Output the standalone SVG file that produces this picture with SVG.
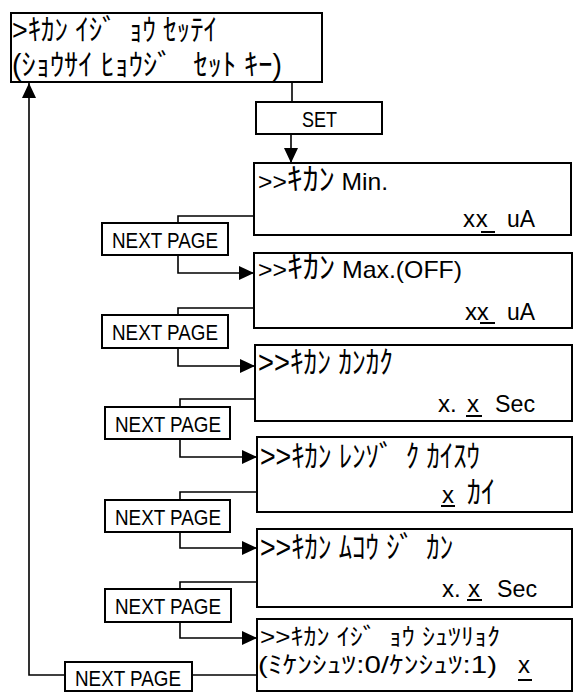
<svg xmlns="http://www.w3.org/2000/svg" width="574" height="692" viewBox="0 0 574 692">
<defs>
<style>
.box{fill:#fff;stroke:#000;stroke-width:2}
.ln{fill:none;stroke:#000;stroke-width:1.6}
.ul{stroke:#000;stroke-width:2}
text{font-family:"Liberation Sans","Noto Sans CJK JP",sans-serif;fill:#000}
.t{font-size:24px}
.b{font-size:22px}
.k{font-size:31px}
.k1{font-size:30px}
.k2{font-size:24px}
</style>
<marker id="ah" markerUnits="userSpaceOnUse" markerWidth="16" markerHeight="15" refX="15" refY="7" orient="auto">
<path d="M0,0 L15,7 L0,14 z" fill="#000"/>
</marker>
</defs>
<rect width="574" height="692" fill="#fff"/>
<g id="connectors">
<path class="ln" d="M292,82 V102"/>
<path class="ln" d="M291,134 V163" marker-end="url(#ah)"/>
<path class="ln" d="M254,216 H178 V223"/>
<path class="ln" d="M178,255 V273 H254" marker-end="url(#ah)"/>
<path class="ln" d="M254,308 H178 V315"/>
<path class="ln" d="M178,348 V366 H255" marker-end="url(#ah)"/>
<path class="ln" d="M255,399 H180 V407"/>
<path class="ln" d="M180,439 V457 H257" marker-end="url(#ah)"/>
<path class="ln" d="M257,492 H180 V500"/>
<path class="ln" d="M180,532 V548 H257" marker-end="url(#ah)"/>
<path class="ln" d="M257,582 H180 V589"/>
<path class="ln" d="M180,622 V638 H257" marker-end="url(#ah)"/>
<path class="ln" d="M257,675 H192"/>
<path class="ln" d="M65,675 H29 V83" marker-end="url(#ah)"/>
</g>
<g id="top">
<rect class="box" x="11" y="13" width="311" height="69"/>
<text class="k1" x="12" y="40" textLength="205" lengthAdjust="spacingAndGlyphs">&gt;ｷｶﾝ ｲｼ゛ｮｳ ｾｯﾃｲ</text>
<text class="k1" x="12" y="75" textLength="270" lengthAdjust="spacingAndGlyphs">(ｼｮｳｻｲ ﾋｮｳｼ゛ ｾｯﾄ ｷｰ)</text>
</g>
<g id="set">
<rect class="box" x="256" y="102" width="126" height="32"/>
<text class="b" x="302" y="127" textLength="35" lengthAdjust="spacingAndGlyphs">SET</text>
</g>
<g id="screen1">
<rect class="box" x="254" y="163" width="317" height="72"/>
<text class="t" x="258" y="190" textLength="130" lengthAdjust="spacingAndGlyphs">&gt;&gt;<tspan class="k">ｷｶﾝ</tspan> Min.</text>
<text class="t" y="227"><tspan x="463" textLength="32">xx </tspan><tspan x="507" textLength="28" lengthAdjust="spacingAndGlyphs">uA</tspan></text>
<line class="ul" x1="481" y1="232" x2="495" y2="232"/>
</g>
<g id="next1">
<rect class="box" x="102" y="223" width="126" height="32"/>
<text class="b" x="112" y="248" textLength="106" lengthAdjust="spacingAndGlyphs">NEXT PAGE</text>
</g>
<g id="screen2">
<rect class="box" x="254" y="253" width="318" height="75"/>
<text class="t" x="258" y="278" textLength="204" lengthAdjust="spacingAndGlyphs">&gt;&gt;<tspan class="k">ｷｶﾝ</tspan> Max.(OFF)</text>
<text class="t" y="320"><tspan x="465" textLength="30">xx </tspan><tspan x="507" textLength="28" lengthAdjust="spacingAndGlyphs">uA</tspan></text>
<line class="ul" x1="480" y1="323" x2="495" y2="323"/>
</g>
<g id="next2">
<rect class="box" x="102" y="315" width="126" height="33"/>
<text class="b" x="112" y="340" textLength="106" lengthAdjust="spacingAndGlyphs">NEXT PAGE</text>
</g>
<g id="screen3">
<rect class="box" x="255" y="345" width="317" height="76"/>
<text class="k" x="258" y="373" textLength="135" lengthAdjust="spacingAndGlyphs">&gt;&gt;ｷｶﾝ ｶﾝｶｸ</text>
<text class="t" y="412"><tspan x="438">x.</tspan><tspan x="467">x </tspan><tspan x="495" textLength="40" lengthAdjust="spacingAndGlyphs">Sec</tspan></text>
<line class="ul" x1="466" y1="416" x2="482" y2="416"/>
</g>
<g id="next3">
<rect class="box" x="105" y="407" width="125" height="32"/>
<text class="b" x="115" y="432" textLength="106" lengthAdjust="spacingAndGlyphs">NEXT PAGE</text>
</g>
<g id="screen4">
<rect class="box" x="257" y="437" width="315" height="75"/>
<text class="k" x="260" y="467" textLength="220" lengthAdjust="spacingAndGlyphs">&gt;&gt;ｷｶﾝ ﾚﾝｿ゛ｸ ｶｲｽｳ</text>
<text class="t" y="503"><tspan x="442">x </tspan><tspan class="k" x="467" textLength="28" lengthAdjust="spacingAndGlyphs">ｶｲ</tspan></text>
<line class="ul" x1="441" y1="506" x2="455" y2="506"/>
</g>
<g id="next4">
<rect class="box" x="105" y="500" width="125" height="32"/>
<text class="b" x="115" y="525" textLength="106" lengthAdjust="spacingAndGlyphs">NEXT PAGE</text>
</g>
<g id="screen5">
<rect class="box" x="257" y="529" width="315" height="78"/>
<text class="k" x="260" y="558" textLength="193" lengthAdjust="spacingAndGlyphs">&gt;&gt;ｷｶﾝ ﾑｺｳ ｼ゛ｶﾝ</text>
<text class="t" y="597"><tspan x="442">x.</tspan><tspan x="468">x </tspan><tspan x="497" textLength="40" lengthAdjust="spacingAndGlyphs">Sec</tspan></text>
<line class="ul" x1="467" y1="600" x2="482" y2="600"/>
</g>
<g id="next5">
<rect class="box" x="105" y="589" width="126" height="33"/>
<text class="b" x="115" y="614" textLength="106" lengthAdjust="spacingAndGlyphs">NEXT PAGE</text>
</g>
<g id="screen6">
<rect class="box" x="257" y="619" width="315" height="72"/>
<text class="k2" x="260" y="645" textLength="240" lengthAdjust="spacingAndGlyphs">&gt;&gt;ｷｶﾝ ｲｼ゛ｮｳ ｼｭﾂﾘｮｸ</text>
<text class="k2" x="258" y="673" textLength="239" lengthAdjust="spacingAndGlyphs">(ﾐｹﾝｼｭﾂ:0/ｹﾝｼｭﾂ:1)</text>
<text class="k2" x="518" y="673" textLength="12" lengthAdjust="spacingAndGlyphs">x</text>
<line class="ul" x1="518" y1="680" x2="532" y2="680"/>
</g>
<g id="next6">
<rect class="box" x="65" y="662" width="127" height="29"/>
<text class="b" x="75" y="686" textLength="106" lengthAdjust="spacingAndGlyphs">NEXT PAGE</text>
</g>
</svg>
